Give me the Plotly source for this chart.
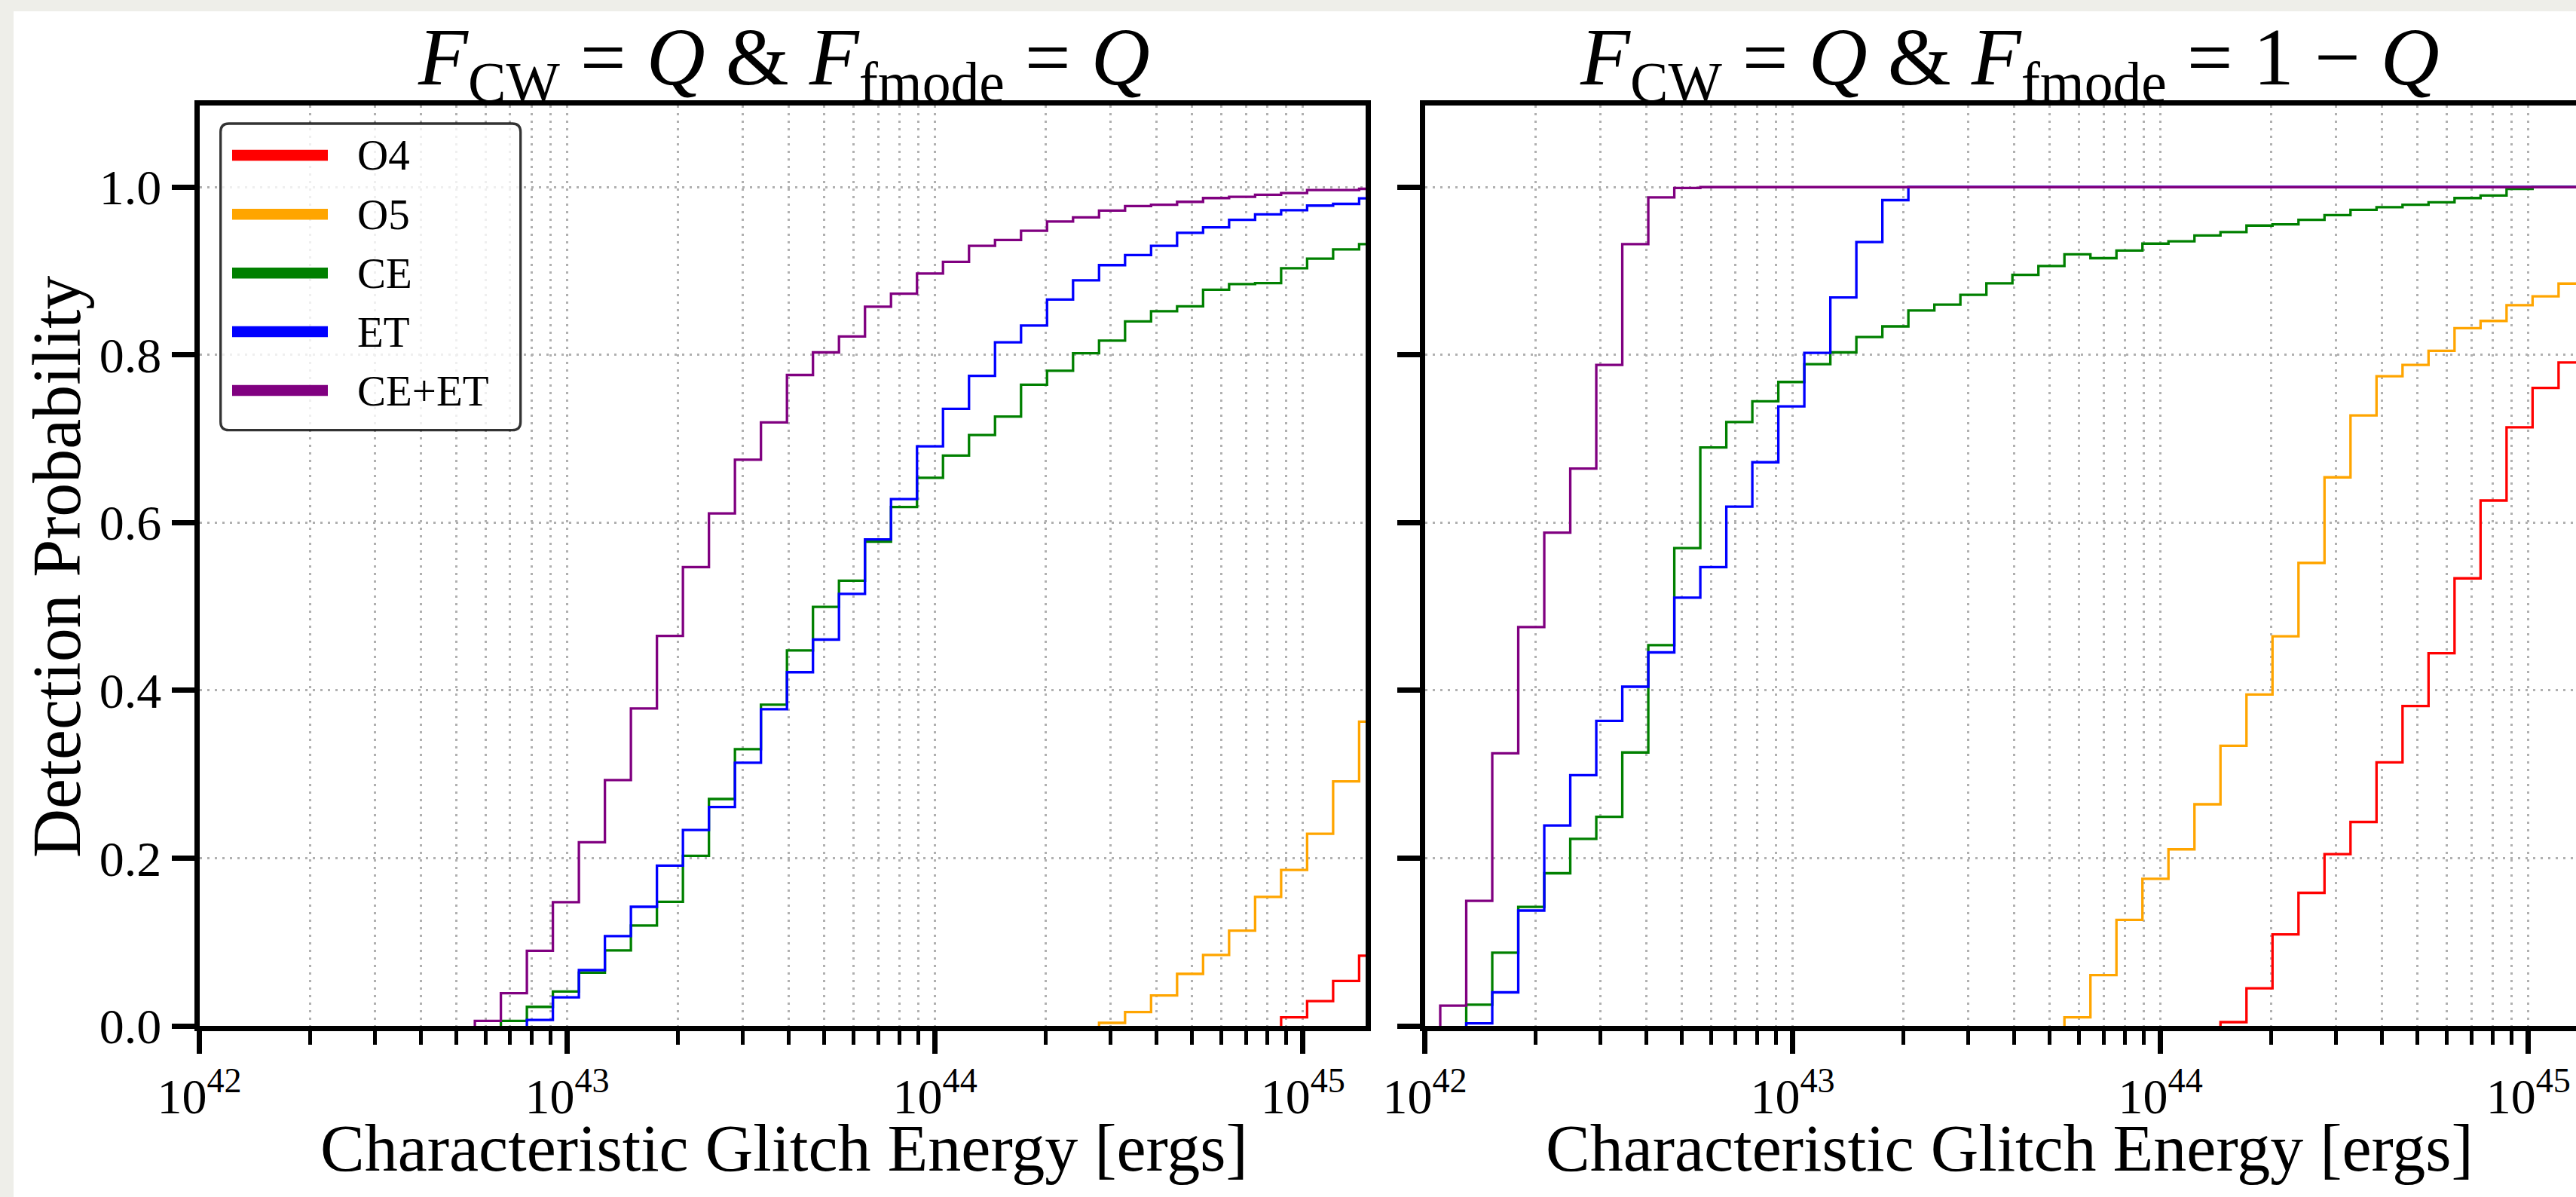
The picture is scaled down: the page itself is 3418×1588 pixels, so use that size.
import numpy as np
import plotly.graph_objects as go

W, H = 3418, 1588
FONT = "Liberation Serif, Times New Roman, serif"

# ---------------- data ----------------
# histogram bins: log10 of the first bin edge and log10 bin width
BIN_EDGE0_LOG = 42.042
BIN_STEP_LOG = 0.0707
N_EDGES = 46

series_names = ["O4", "O5", "CE", "ET", "CE+ET"]
series_colors = ["#FF0000", "#FFA500", "#008000", "#0000FF", "#800080"]

# Left panel: F_CW = Q & F_fmode = Q  (index of first non-zero bin, cumulative detection probability per bin)
left_start = {"O4": 41, "O5": 34, "CE": 11, "ET": 12, "CE+ET": 10}
left_O4 = [0.0102, 0.0295, 0.0535, 0.0837]
left_O5 = [0.0036, 0.0165, 0.0362, 0.062, 0.0846, 0.1135, 0.1538, 0.186, 0.229, 0.2916, 0.3627]
left_CE = [0.006, 0.0227, 0.041, 0.0635, 0.090, 0.1197, 0.148, 0.2028, 0.2705, 0.330,
           0.383, 0.4476, 0.4995, 0.5307, 0.5774, 0.6187, 0.6535, 0.680, 0.7044, 0.7264,
           0.7644, 0.781, 0.802, 0.817, 0.840, 0.852, 0.858, 0.8776, 0.8845, 0.8855,
           0.9033, 0.9148, 0.9258, 0.932]
left_ET = [0.007, 0.034, 0.0665, 0.107, 0.142, 0.191, 0.2335, 0.261, 0.3137, 0.3775,
           0.4217, 0.4606, 0.515, 0.580, 0.628, 0.691, 0.7356, 0.775, 0.815, 0.835,
           0.866, 0.889, 0.907, 0.919, 0.930, 0.9455, 0.952, 0.961, 0.9675, 0.9725,
           0.978, 0.980, 0.9867]
left_CEET = [0.006, 0.039, 0.0895, 0.1475, 0.219, 0.293, 0.3785, 0.465, 0.547, 0.611,
             0.675, 0.7195, 0.776, 0.803, 0.822, 0.8575, 0.873, 0.897, 0.911, 0.930,
             0.937, 0.948, 0.959, 0.964, 0.972, 0.9775, 0.979, 0.9825, 0.987, 0.9885,
             0.991, 0.993, 0.9965, 0.9965, 0.998]

# Right panel: F_CW = Q & F_fmode = 1 - Q
right_start = {"O4": 30, "O5": 24, "CE": 1, "ET": 1, "CE+ET": 0}
right_O4 = [0.0045, 0.0448, 0.109, 0.1586, 0.2047, 0.2431, 0.3142, 0.3814, 0.4443, 0.5336,
            0.6264, 0.7136, 0.7607, 0.791, 0.800]
right_O5 = [0.0102, 0.0606, 0.1264, 0.1754, 0.2105, 0.2642, 0.3339, 0.395, 0.4645, 0.552,
            0.654, 0.7278, 0.7745, 0.788, 0.8048, 0.8318, 0.8405, 0.8593, 0.8698, 0.885,
            0.895]
right_CE = [0.0252, 0.0872, 0.1418, 0.182, 0.223, 0.2493, 0.326, 0.454, 0.5696, 0.6897,
            0.720, 0.7447, 0.7677, 0.789, 0.803, 0.8213, 0.834, 0.853, 0.860, 0.8717,
            0.8854, 0.8955, 0.906, 0.920, 0.9153, 0.9244, 0.9326, 0.9354, 0.9423, 0.9464,
            0.9542, 0.9556, 0.961, 0.9666, 0.973, 0.976, 0.979, 0.982, 0.987, 0.990,
            0.998, 1.0, 1.0, 1.0]
right_ET = [0.003, 0.040, 0.1375, 0.239, 0.299, 0.3636, 0.4044, 0.4453, 0.5105, 0.547,
            0.619, 0.672, 0.7387, 0.8025, 0.8685, 0.9345, 0.9845, 1.0, 1.0, 1.0,
            1.0, 1.0, 1.0, 1.0, 1.0, 1.0, 1.0, 1.0, 1.0, 1.0,
            1.0, 1.0, 1.0, 1.0, 1.0, 1.0, 1.0, 1.0, 1.0, 1.0,
            1.0, 1.0, 1.0, 1.0]
right_CEET = [0.0242, 0.149, 0.325, 0.4755, 0.588, 0.6645, 0.788, 0.932, 0.9877, 0.999,
              1.0, 1.0, 1.0, 1.0, 1.0, 1.0, 1.0, 1.0, 1.0, 1.0,
              1.0, 1.0, 1.0, 1.0, 1.0, 1.0, 1.0, 1.0, 1.0, 1.0,
              1.0, 1.0, 1.0, 1.0, 1.0, 1.0, 1.0, 1.0, 1.0, 1.0,
              1.0, 1.0, 1.0, 1.0, 1.0]

left_values = {"O4": left_O4, "O5": left_O5, "CE": left_CE, "ET": left_ET, "CE+ET": left_CEET}
right_values = {"O4": right_O4, "O5": right_O5, "CE": right_CE, "ET": right_ET, "CE+ET": right_CEET}

x_major_ticks = [1e42, 1e43, 1e44, 1e45]
x_major_text = ["10<sup>42</sup>", "10<sup>43</sup>", "10<sup>44</sup>", "10<sup>45</sup>"]
y_ticks = [0.0, 0.2, 0.4, 0.6, 0.8, 1.0]
y_text = ["0.0", "0.2", "0.4", "0.6", "0.8", "1.0"]

titles = ["<i>F</i><sub>CW</sub> = <i>Q</i> &amp; <i>F</i><sub>fmode</sub> = <i>Q</i>",
          "<i>F</i><sub>CW</sub> = <i>Q</i> &amp; <i>F</i><sub>fmode</sub> = 1 \u2212 <i>Q</i>"]
xlabel = "Characteristic Glitch Energy [ergs]"
ylabel = "Detection Probability"

# ---------------- figure ----------------
edges = 10 ** (BIN_EDGE0_LOG + BIN_STEP_LOG * np.arange(N_EDGES))
minor_vals = [k * 10.0 ** d for d in range(42, 46) for k in range(2, 10)]


def step_xy(start, vals):
    n = len(vals)
    xs = [edges[start]] + [edges[start + i] for i in range(n)] + [edges[start + n]]
    ys = [0.0] + list(vals) + [vals[-1]]
    return xs, ys


fig = go.Figure()
for panel, (starts, values) in enumerate([(left_start, left_values), (right_start, right_values)]):
    xa = "x" if panel == 0 else "x2"
    ya = "y" if panel == 0 else "y2"
    for name, col in zip(series_names, series_colors):
        xs, ys = step_xy(starts[name], values[name])
        fig.add_trace(go.Scatter(x=xs, y=ys, mode="lines", line=dict(color=col, width=3.3, shape="hv"),
                                 name=name, showlegend=False, xaxis=xa, yaxis=ya, hoverinfo="skip"))


def px_x(p):
    return p / W


def px_y(p):
    return 1 - p / H


GRID = dict(showgrid=True, gridcolor="#b0b0b0", gridwidth=3, griddash="3px,7px")
tickfont = dict(family=FONT, size=66, color="black")

x_common = dict(type="log", tickmode="array", tickvals=x_major_ticks, ticktext=x_major_text,
                ticks="outside", ticklen=30, tickwidth=7, tickcolor="black",
                showline=True, linewidth=7, linecolor="black", mirror=True,
                zeroline=False, tickfont=tickfont, automargin=False,
                minor=dict(tickmode="array", tickvals=minor_vals, ticks="outside", ticklen=18,
                           tickwidth=5, tickcolor="black", **GRID),
                **GRID)
y_common = dict(range=[0, 1.0973], tickmode="array", tickvals=y_ticks, ticktext=y_text,
                ticks="outside", ticklen=30, tickwidth=7, tickcolor="black",
                showline=True, linewidth=7, linecolor="black", mirror=True,
                zeroline=False, tickfont=tickfont, automargin=False, **GRID)

L_left, L_right = 264.5, 1812.0
R_left, R_right = 1890.5, 3418.0
DEC = 488.1
TOP, BOT = 140.0, 1361.0

fig.update_layout(
    width=W, height=H, template="none",
    margin=dict(l=0, r=0, t=0, b=0, pad=0),
    paper_bgcolor="rgb(238,238,233)", plot_bgcolor="white",
    showlegend=False,
    xaxis=dict(domain=[px_x(L_left), px_x(L_right)], range=[42, 42 + (L_right - L_left) / DEC],
               anchor="y", **x_common),
    xaxis2=dict(domain=[px_x(R_left), px_x(R_right)], range=[42, 42 + (R_right - R_left) / DEC],
                anchor="y2", **x_common),
    yaxis=dict(domain=[px_y(BOT), px_y(TOP)], anchor="x", **y_common),
    yaxis2=dict(domain=[px_y(BOT), px_y(TOP)], anchor="x2", showticklabels=False, **y_common),
)

shapes = []
# white figure area
shapes.append(dict(type="rect", xref="paper", yref="paper", x0=px_x(18), x1=1.0, y0=px_y(15), y1=0.0,
                   fillcolor="white", line=dict(width=0), layer="below"))

# legend frame (rounded)
lx0, ly0, lx1, ly1, rr = 292.7, 164.0, 690.7, 570.7, 11.0
path = (f"M {px_x(lx0 + rr)},{px_y(ly0)} L {px_x(lx1 - rr)},{px_y(ly0)} "
        f"Q {px_x(lx1)},{px_y(ly0)} {px_x(lx1)},{px_y(ly0 + rr)} "
        f"L {px_x(lx1)},{px_y(ly1 - rr)} Q {px_x(lx1)},{px_y(ly1)} {px_x(lx1 - rr)},{px_y(ly1)} "
        f"L {px_x(lx0 + rr)},{px_y(ly1)} Q {px_x(lx0)},{px_y(ly1)} {px_x(lx0)},{px_y(ly1 - rr)} "
        f"L {px_x(lx0)},{px_y(ly0 + rr)} Q {px_x(lx0)},{px_y(ly0)} {px_x(lx0 + rr)},{px_y(ly0)} Z")
shapes.append(dict(type="path", xref="paper", yref="paper", path=path,
                   fillcolor="rgba(255,255,255,0.8)", line=dict(color="rgba(0,0,0,0.8)", width=3.3),
                   layer="above"))

annotations = []
leg_y = [206.0, 284.3, 362.3, 440.0, 518.0]
for name, col, yy in zip(series_names, series_colors, leg_y):
    shapes.append(dict(type="line", xref="paper", yref="paper", x0=px_x(308), x1=px_x(435),
                       y0=px_y(yy), y1=px_y(yy), line=dict(color=col, width=14.5), layer="above"))
    annotations.append(dict(x=px_x(471.7), y=px_y(yy), xref="paper", yref="paper", text=name,
                            showarrow=False, xanchor="left", yanchor="middle",
                            font=dict(family=FONT, size=57, color="black")))

centers = [(264.5 + 1815.5) / 2, (1890.5 + 3442.0) / 2]
for cx, t in zip(centers, titles):
    annotations.append(dict(x=px_x(cx), y=px_y(84), xref="paper", yref="paper", text=t,
                            showarrow=False, xanchor="center", yanchor="middle",
                            font=dict(family=FONT, size=108, color="black")))
    annotations.append(dict(x=px_x(cx), y=px_y(1523), xref="paper", yref="paper", text=xlabel,
                            showarrow=False, xanchor="center", yanchor="middle",
                            font=dict(family=FONT, size=88, color="black")))
annotations.append(dict(x=px_x(76), y=px_y(752), xref="paper", yref="paper", text=ylabel,
                        showarrow=False, xanchor="center", yanchor="middle", textangle=-90,
                        font=dict(family=FONT, size=90, color="black")))

fig.update_layout(shapes=shapes, annotations=annotations)
fig.write_html("out.html")
